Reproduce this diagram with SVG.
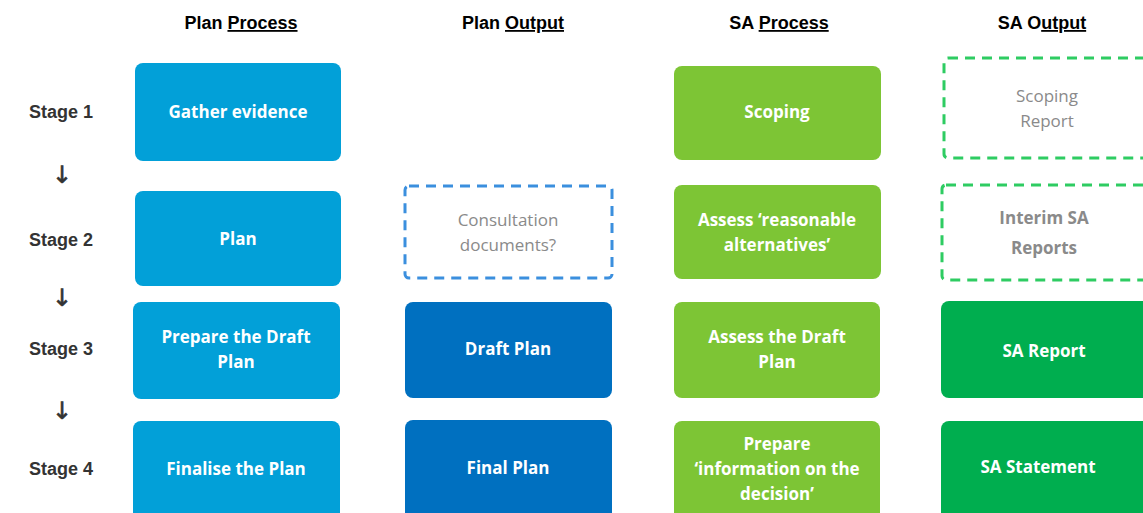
<svg xmlns="http://www.w3.org/2000/svg" width="1143" height="513" viewBox="0 0 1143 513">
<style>
.hdr{font-family:"Liberation Sans",Arial,sans-serif;font-weight:bold;font-size:18px;fill:#000;text-anchor:middle}
.stg{font-family:"Liberation Sans",Arial,sans-serif;font-weight:bold;font-size:18px;fill:#333;text-anchor:middle}
.arr{font-family:"DejaVu Sans",sans-serif;font-size:24px;fill:#333;stroke:#333;stroke-width:0.6;text-anchor:middle}
.t{font-family:"Open Sans","Liberation Sans",sans-serif;font-weight:bold;font-size:17px;fill:#fff;text-anchor:middle}
.tg{font-family:"Open Sans","Liberation Sans",sans-serif;font-size:17px;fill:#8a8a8a;text-anchor:middle}
.tgb{font-family:"Open Sans","Liberation Sans",sans-serif;font-weight:bold;font-size:17px;fill:#8a8a8a;text-anchor:middle}
.pp{fill:#02a0d8}
.po{fill:#0070c0}
.sp{fill:#7dc535}
.so{fill:#00ae4f}
.dashb{fill:#fff;stroke:#3b8fde;stroke-width:3;stroke-dasharray:10 7}
.dashg{fill:#fff;stroke:#2ecc62;stroke-width:3;stroke-dasharray:10 7}
</style>
<rect width="1143" height="513" fill="#fff"/>
<g id="headers">
<text class="hdr" x="241" y="29">Plan <tspan text-decoration="underline">Process</tspan></text>
<text class="hdr" x="513" y="29">Plan <tspan text-decoration="underline">Output</tspan></text>
<text class="hdr" x="779" y="29">SA <tspan text-decoration="underline">Process</tspan></text>
<text class="hdr" x="1042" y="29">SA O<tspan text-decoration="underline">utput</tspan></text>
</g>
<g id="stages">
<text class="stg" x="61" y="118">Stage 1</text>
<text class="stg" x="61" y="246">Stage 2</text>
<text class="stg" x="61" y="355">Stage 3</text>
<text class="stg" x="61" y="475">Stage 4</text>
</g>
<g id="connectors">
<text class="arr" x="62" y="183">↓</text>
<text class="arr" x="62" y="306">↓</text>
<text class="arr" x="62" y="419">↓</text>
</g>
<g id="gather"><rect class="pp" x="135" y="63" width="206" height="98" rx="8"/><text class="t" x="238" y="118">Gather evidence</text></g>
<g id="plan"><rect class="pp" x="135" y="191" width="206" height="95" rx="8"/><text class="t" x="238" y="245">Plan</text></g>
<g id="prepare-draft"><rect class="pp" x="133" y="302" width="207" height="97" rx="8"/><text class="t" x="236" y="343">Prepare the Draft</text><text class="t" x="236" y="368">Plan</text></g>
<g id="finalise"><rect class="pp" x="133" y="421" width="207" height="100" rx="8"/><text class="t" x="236" y="475">Finalise the Plan</text></g>
<g id="consultation"><rect class="dashb" x="405" y="186" width="207" height="92" rx="4"/><text class="tg" x="508" y="226">Consultation</text><text class="tg" x="508" y="251">documents?</text></g>
<g id="draft-plan"><rect class="po" x="405" y="302" width="207" height="96" rx="8"/><text class="t" x="508" y="355">Draft Plan</text></g>
<g id="final-plan"><rect class="po" x="405" y="420" width="207" height="100" rx="8"/><text class="t" x="508" y="474">Final Plan</text></g>
<g id="scoping"><rect class="sp" x="674" y="66" width="207" height="94" rx="8"/><text class="t" x="777" y="118">Scoping</text></g>
<g id="assess-alt"><rect class="sp" x="674" y="185" width="207" height="94" rx="8"/><text class="t" x="777" y="226">Assess ‘reasonable</text><text class="t" x="777" y="251">alternatives’</text></g>
<g id="assess-draft"><rect class="sp" x="674" y="302" width="206" height="96" rx="8"/><text class="t" x="777" y="343">Assess the Draft</text><text class="t" x="777" y="368">Plan</text></g>
<g id="prepare-info"><rect class="sp" x="674" y="421" width="206" height="100" rx="8"/><text class="t" x="777" y="450">Prepare</text><text class="t" x="777" y="475">‘information on the</text><text class="t" x="777" y="500">decision’</text></g>
<g id="scoping-report"><rect class="dashg" x="944" y="58" width="210" height="100" rx="4"/><text class="tg" x="1047" y="102">Scoping</text><text class="tg" x="1047" y="127">Report</text></g>
<g id="interim"><rect class="dashg" x="942" y="185" width="212" height="95" rx="4"/><text class="tgb" x="1044" y="224">Interim SA</text><text class="tgb" x="1044" y="254">Reports</text></g>
<g id="sa-report"><rect class="so" x="941" y="301" width="215" height="97" rx="8"/><text class="t" x="1044" y="357">SA Report</text></g>
<g id="sa-statement"><rect class="so" x="941" y="421" width="215" height="100" rx="8"/><text class="t" x="1038" y="473">SA Statement</text></g>
</svg>
